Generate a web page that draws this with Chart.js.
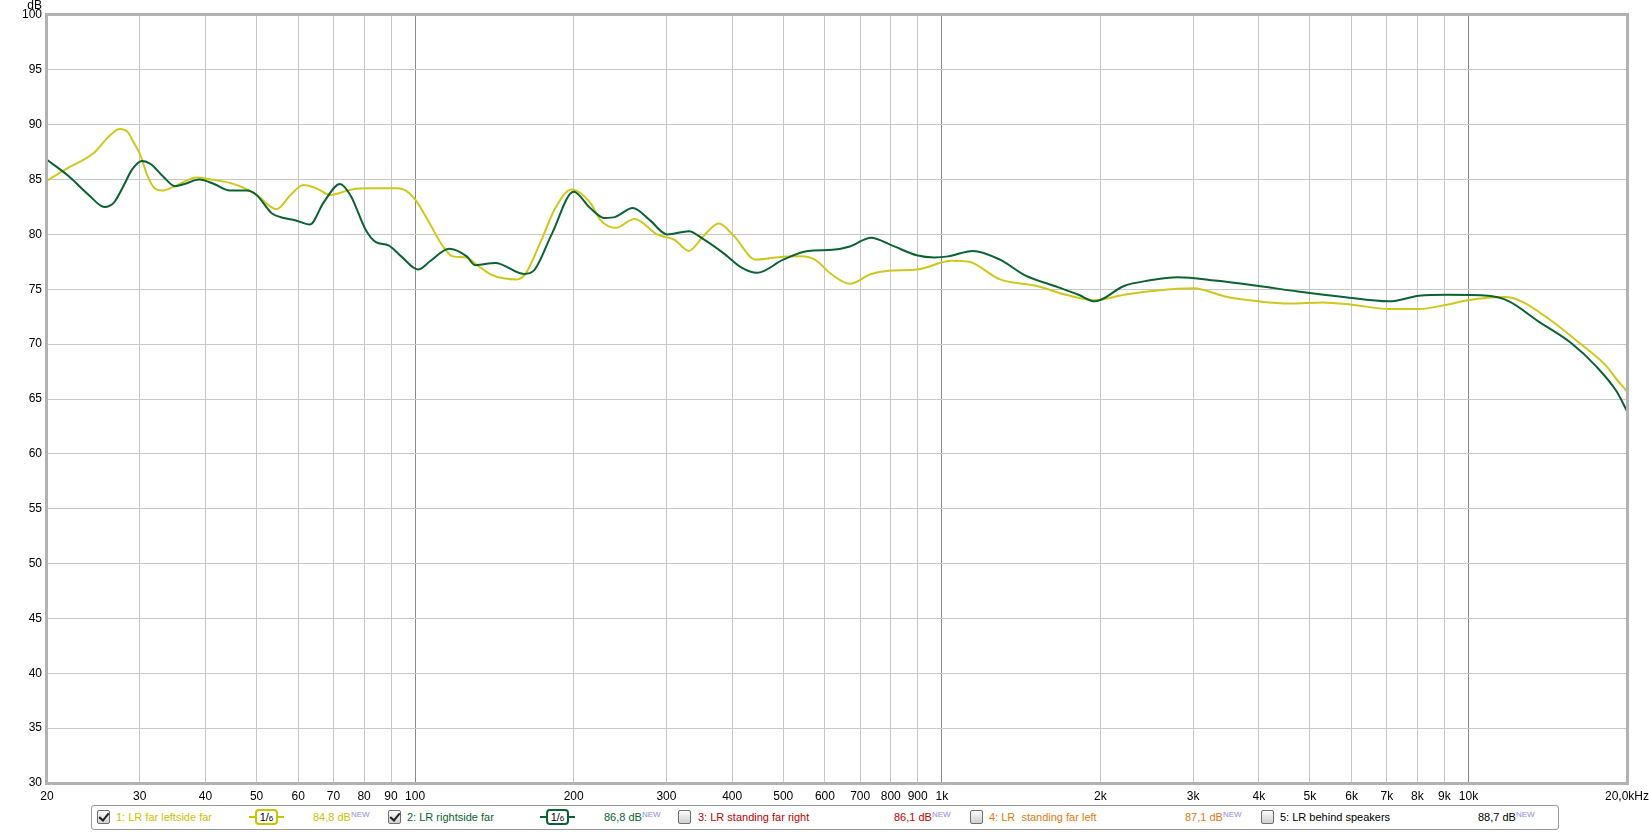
<!DOCTYPE html>
<html>
<head>
<meta charset="utf-8">
<title>LR frequency response</title>
<script src="https://cdn.jsdelivr.net/npm/chart.js@4/dist/chart.umd.min.js"></script>
<style>
    body { margin: 0; background: #fff; }
    #wrap { position: relative; width: 1649px; height: 832px; font-family: "Liberation Sans", Arial, sans-serif; }
    #legendBox { position: absolute; left: 91px; top: 805px; width: 1468px; height: 25px; box-sizing: border-box;
                 border: 1px solid #9a9a9a; border-radius: 3px; background: #fff; }
    .txt { position: absolute; top: 811px; font-size: 11px; line-height: 13px; white-space: nowrap; }
    .txt sup { font-size: 8px; color: #8c8ce8; vertical-align: 4px; line-height: 0; }
    .cb { position: absolute; top: 810px; width: 13px; height: 14px; box-sizing: border-box; border: 1px solid #707070;
          border-radius: 2px; background: linear-gradient(#fdfdfd, #cfcfcf); }
    .cb.on::after { content: ""; position: absolute; left: 3px; top: 0px; width: 4px; height: 8px;
                    border: solid #222; border-width: 0 2px 2px 0; transform: rotate(40deg); }
    .badge { position: absolute; top: 809px; height: 16px; display: flex; align-items: center; }
    .stub { width: 6px; height: 2px; background: var(--c); }
    .box { box-sizing: border-box; width: 23px; height: 16px; border: 2px solid var(--c); border-radius: 4px;
           font-size: 11px; line-height: 12px; color: #000; text-align: center; }
    .box small { font-size: 8px; }
</style>
</head>
<body>
<div id="wrap">
    <canvas id="chart" width="1649" height="832"></canvas>

    <div id="legendBox"></div>

    <div class="cb on" style="left:97px"></div>
    <div class="txt" style="left:116px; color:#c9c400">1: LR far leftside far</div>
    <div class="badge" style="left:249px; --c:#c9c400"><span class="stub"></span><span class="box">1/<small>6</small></span><span class="stub"></span></div>
    <div class="txt" style="left:313px; color:#c9c400">84,8 dB<sup>NEW</sup></div>

    <div class="cb on" style="left:388px"></div>
    <div class="txt" style="left:407px; color:#0b6232">2: LR rightside far</div>
    <div class="badge" style="left:540px; --c:#0b6232"><span class="stub"></span><span class="box">1/<small>6</small></span><span class="stub"></span></div>
    <div class="txt" style="left:604px; color:#0b6232">86,8 dB<sup>NEW</sup></div>

    <div class="cb" style="left:678px"></div>
    <div class="txt" style="left:698px; color:#c00000">3: LR standing far right</div>
    <div class="txt" style="left:894px; color:#c00000">86,1 dB<sup>NEW</sup></div>

    <div class="cb" style="left:970px"></div>
    <div class="txt" style="left:989px; color:#e07a10">4: LR &nbsp;standing far left</div>
    <div class="txt" style="left:1185px; color:#e07a10">87,1 dB<sup>NEW</sup></div>

    <div class="cb" style="left:1261px"></div>
    <div class="txt" style="left:1280px; color:#000">5: LR behind speakers</div>
    <div class="txt" style="left:1478px; color:#000">88,7 dB<sup>NEW</sup></div>
</div>

<script>
// Frequency axis ticks (Hz) and the darker decade lines
const freqTicks = [20, 30, 40, 50, 60, 70, 80, 90, 100, 200, 300, 400, 500, 600, 700, 800, 900,
                   1000, 2000, 3000, 4000, 5000, 6000, 7000, 8000, 9000, 10000, 20000];
const decadeLines = [100, 1000, 10000];

// 1: LR far leftside far (1/6 oct smoothing)
const leftFreq = [20, 21.8, 24.5, 26.3, 27.5, 28.5, 29.2, 30.1, 31, 32, 33.1, 35, 38.5, 41, 44.5, 47, 50,
                  54.6, 58, 61.4, 65, 69, 75.9, 82, 92.3, 96, 100, 106, 113, 117.9, 125, 132, 140, 156, 162,
                  173.7, 184.6, 198, 215, 225, 240, 261, 288, 311, 331, 352, 377, 404, 443, 485, 540, 574,
                  620, 669, 734, 792, 896, 1044, 1127, 1290, 1516, 1722, 1953, 2218, 2563, 3000, 3486, 4000,
                  4576, 5287, 6002, 7064, 8054, 9101, 9962, 11728, 12608, 14307, 16247, 18279, 19105, 20000];
const leftDb = [84.9, 86.0, 87.4, 89.0, 89.6, 89.3, 88.4, 87.2, 85.4, 84.2, 84.0, 84.4, 85.2, 85.0, 84.7, 84.3, 83.6,
                82.3, 83.6, 84.5, 84.2, 83.6, 84.1, 84.2, 84.2, 84.0, 83.2, 81.2, 78.9, 78.0, 77.9, 77.1, 76.3, 75.9, 76.4,
                79.5, 82.4, 84.1, 82.9, 81.3, 80.6, 81.4, 80.0, 79.5, 78.5, 79.8, 81.0, 79.8, 77.7, 77.9, 78.0, 77.7,
                76.3, 75.5, 76.4, 76.7, 76.8, 77.6, 77.5, 75.9, 75.3, 74.5, 74.0, 74.5, 74.9, 75.1, 74.3, 73.9,
                73.7, 73.8, 73.6, 73.2, 73.2, 73.6, 74.0, 74.3, 73.9, 72.2, 70.1, 68.0, 66.8, 65.7];

// 2: LR rightside far (1/6 oct smoothing)
const rightFreq = [20, 22, 24, 25.7, 26.8, 28, 29, 30.3, 31.5, 33.2, 35, 36.5, 38.9, 41.5, 44.5, 47.9, 50,
                   53.5, 56.3, 59.2, 63.1, 67, 72, 75.5, 80.6, 84.2, 89, 94.1, 101.3, 107, 116, 125.3, 130, 142,
                   161, 168, 182, 200, 215, 229, 240, 259, 279, 301, 331, 352, 385, 416, 446, 500, 557, 620, 669,
                   734, 804, 896, 967, 1028, 1145, 1290, 1436, 1660, 1818, 1953, 2218, 2472, 2806, 3303, 4000,
                   4743, 5788, 7064, 8054, 9101, 10904, 11940, 13550, 15666, 17460, 19105, 20000];
const rightDb = [86.8, 85.3, 83.6, 82.5, 82.9, 84.5, 85.9, 86.7, 86.4, 85.3, 84.4, 84.6, 85.0, 84.6, 84.0, 84.0, 83.6,
                 81.9, 81.5, 81.3, 80.9, 82.9, 84.6, 83.5, 80.4, 79.3, 79.0, 78.0, 76.8, 77.6, 78.7, 78.0, 77.2, 77.4,
                 76.4, 76.7, 80.1, 83.9, 82.4, 81.5, 81.6, 82.4, 81.3, 80.0, 80.3, 79.6, 78.3, 77.0, 76.5, 77.7, 78.5, 78.6, 78.9,
                 79.7, 79.0, 78.1, 77.9, 78.0, 78.5, 77.7, 76.3, 75.2, 74.5, 73.9, 75.3, 75.8, 76.1, 75.8, 75.3,
                 74.8, 74.3, 73.9, 74.4, 74.5, 74.4, 73.9, 72.1, 70.1, 68.0, 65.7, 63.9];

function toPoints(freqs, values) {
    return freqs.map(function(f, i) {
        return { x: f, y: values[i] };
    });
}

function freqLabel(v) {
    if (v === 20000) return '20,0kHz';
    if (v >= 1000) return (v / 1000) + 'k';
    return String(v);
}

// Frame around the plot and the "dB" unit label
const framePlugin = {
    id: 'frame',
    afterDraw: function(chart) {
        const ctx = chart.ctx;
        const a = chart.chartArea;
        ctx.save();
        ctx.strokeStyle = '#b2b2b2';
        ctx.lineWidth = 3;
        ctx.strokeRect(a.left - 0.5, a.top - 0.5, a.right - a.left + 1, a.bottom - a.top + 1);
        ctx.fillStyle = '#000';
        ctx.font = '12px "Liberation Sans", Arial, sans-serif';
        ctx.textAlign = 'right';
        ctx.textBaseline = 'alphabetic';
        ctx.fillText('dB', 42, 9);
        ctx.restore();
    }
};

const chart = new Chart(document.getElementById('chart'), {
    type: 'line',
    data: {
        datasets: [{
            label: '1: LR far leftside far',
            data: toPoints(leftFreq, leftDb),
            borderColor: '#cfc81c',
            borderWidth: 2,
            pointRadius: 0,
            cubicInterpolationMode: 'monotone',
            order: 2
        }, {
            label: '2: LR rightside far',
            data: toPoints(rightFreq, rightDb),
            borderColor: '#0b6232',
            borderWidth: 2,
            pointRadius: 0,
            cubicInterpolationMode: 'monotone',
            order: 1
        }]
    },
    options: {
        responsive: false,
        animation: false,
        layout: { padding: { top: 15, right: 22, left: 0, bottom: 0 } },
        plugins: {
            legend: { display: false },
            tooltip: { enabled: false }
        },
        scales: {
            x: {
                type: 'logarithmic',
                min: 20,
                max: 20000,
                afterBuildTicks: function(axis) {
                    axis.ticks = freqTicks.map(function(v) { return { value: v }; });
                },
                afterFit: function(axis) {
                    axis.height = 49;
                    // let the last label hang into the right margin
                    axis.paddingLeft = 0;
                    axis.paddingRight = 0;
                },
                border: { display: false },
                grid: {
                    drawTicks: false,
                    color: function(c) {
                        return c.tick && decadeLines.includes(c.tick.value) ? '#8a8a8a' : '#c8c8c8';
                    }
                },
                ticks: {
                    autoSkip: false,
                    maxRotation: 0,
                    minRotation: 0,
                    padding: 6,
                    color: '#000',
                    font: { family: '"Liberation Sans", Arial, sans-serif', size: 12 },
                    callback: function(v) { return freqLabel(v); }
                }
            },
            y: {
                min: 30,
                max: 100,
                afterFit: function(axis) { axis.width = 47; },
                border: { display: false },
                grid: { drawTicks: false, color: '#c8c8c8' },
                ticks: {
                    stepSize: 5,
                    padding: 5,
                    color: '#000',
                    font: { family: '"Liberation Sans", Arial, sans-serif', size: 12 }
                }
            }
        }
    },
    plugins: [framePlugin]
});
</script>
</body>
</html>
